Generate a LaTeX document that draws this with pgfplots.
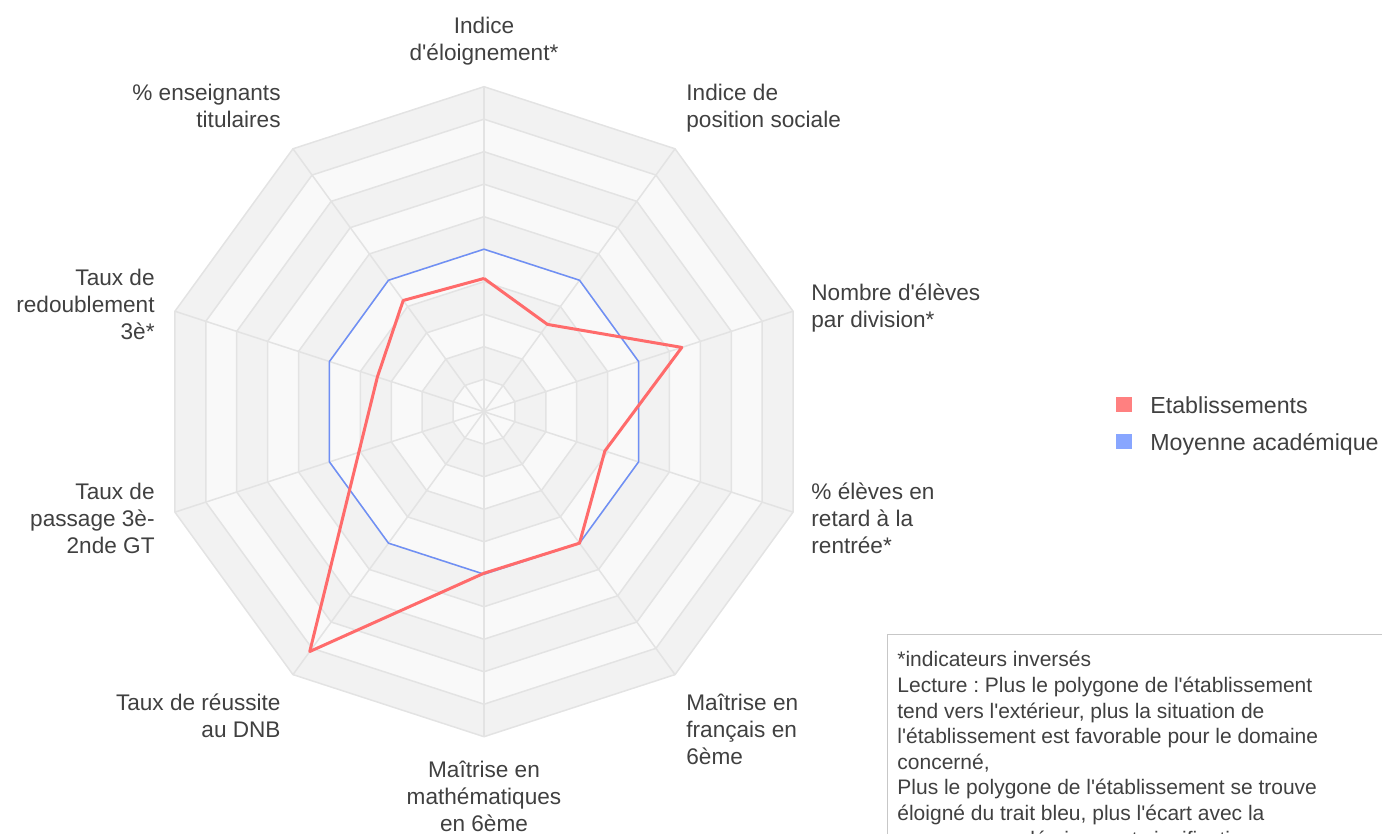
\documentclass[border=0pt]{standalone}
\usepackage{fontspec}
\setmainfont{Liberation Sans}[Ligatures=TeXOff]
\usepackage{pgfplots}
\pgfplotsset{compat=1.18}
\frenchspacing

\definecolor{txt}{HTML}{404040}
\definecolor{gridc}{HTML}{E3E3E3}
\definecolor{bandL}{HTML}{F9F9F9}
\definecolor{bandD}{HTML}{F2F2F2}
\definecolor{etab}{HTML}{FF6B6B}
\definecolor{acad}{HTML}{6F8FF5}
\definecolor{etabkey}{HTML}{FF8080}
\definecolor{acadkey}{HTML}{88A6FF}
% one fill colour per ring, alternating from the centre
\colorlet{band1}{bandL}\colorlet{band2}{bandD}\colorlet{band3}{bandL}
\colorlet{band4}{bandD}\colorlet{band5}{bandL}\colorlet{band6}{bandD}
\colorlet{band7}{bandL}\colorlet{band8}{bandD}\colorlet{band9}{bandL}
\colorlet{band10}{bandD}

\newcommand\labf{\fontsize{11.3}{13.5}\selectfont}
\newcommand\legf{\fontsize{11.6}{13.8}\selectfont}
\newcommand\boxf{\fontsize{10.5}{12.8}\selectfont}

\begin{document}
\begin{tikzpicture}
\path[use as bounding box] (0,0) rectangle (691pt,-417pt);
\clip (0,0) rectangle (691pt,-417pt);

\begin{axis}[
  at={(242pt,-205.85pt)}, anchor=origin,
  x=16.25pt, y=16.25pt,
  xmin=-10.5, xmax=10.5, ymin=-10.5, ymax=10.5,
  hide axis, clip=false,
]
% background rings, outer first
\pgfplotsinvokeforeach{10,9,8,7,6,5,4,3,2,1}{
  \addplot[data cs=polar, draw=gridc, fill=band#1, line width=0.75pt, line join=round]
    coordinates {(90,#1) (54,#1) (18,#1) (-18,#1) (-54,#1) (-90,#1) (-126,#1) (-162,#1) (162,#1) (126,#1) (90,#1)};
}
% spokes
\pgfplotsinvokeforeach{90,54,18,-18,-54,-90,-126,-162,162,126}{
  \addplot[data cs=polar, draw=gridc, line width=0.75pt] coordinates {(#1,0) (#1,10)};
}
% Moyenne academique
\addplot[data cs=polar, draw=acad, line width=0.75pt, line join=round]
  coordinates {(90,5) (54,5) (18,5) (-18,5) (-54,5) (-90,5) (-126,5) (-162,5) (162,5) (126,5) (90,5)};
% Etablissements
\addplot[data cs=polar, draw=etab, line width=1.5pt, line join=round]
  coordinates {(90,4.1) (54,3.32) (18,6.4) (-18,3.91) (-54,5.0) (-90,4.97) (-126,9.12) (-162,4.05) (162,3.45) (126,4.23) (90,4.1)};
\end{axis}

\begin{scope}[x=0.5pt, y=-0.5pt, every node/.style={inner sep=0pt, text=txt}]
% axis labels
\node[anchor=north, align=center, font=\labf] at (484,14) {\strut Indice\\d'éloignement*};
\node[anchor=north west, align=left, font=\labf] at (686,81) {\strut Indice de\\position sociale};
\node[anchor=north west, align=left, font=\labf] at (811,281) {\strut Nombre d'élèves\\par division*};
\node[anchor=north west, align=left, font=\labf] at (811,480) {\strut \% élèves en\\retard à la\\rentrée*};
\node[anchor=north west, align=left, font=\labf] at (686,691) {\strut Maîtrise en\\français en\\6ème};
\node[anchor=north, align=center, font=\labf] at (484,758) {\strut Maîtrise en\\mathématiques\\en 6ème};
\node[anchor=north east, align=right, font=\labf] at (281,691) {\strut Taux de réussite\\au DNB};
\node[anchor=north east, align=right, font=\labf] at (155,480) {\strut Taux de\\passage 3è-\\2nde GT};
\node[anchor=north east, align=right, font=\labf] at (155,266) {\strut Taux de\\redoublement\\3è*};
\node[anchor=north east, align=right, font=\labf] at (281,81) {\strut \% enseignants\\titulaires};

% legend
\fill[etabkey] (1116,397) rectangle (1132,412);
\fill[acadkey] (1116,434) rectangle (1132,449);
\node[anchor=base west, font=\legf] at (1150,413) {Etablissements};
\node[anchor=base west, font=\legf] at (1150,450) {Moyenne académique};

% note box (cut by the picture's edge, as in the original)
\draw[draw=black!22, line width=0.5pt] (887,634) rectangle (1420,900);
\node[anchor=north west, align=left, font=\boxf] at (897,648.6) {\strut*indicateurs inversés\\
Lecture : Plus le polygone de l'établissement\\
tend vers l'extérieur, plus la situation de\\
l'établissement est favorable pour le domaine\\
concerné,\\
Plus le polygone de l'établissement se trouve\\
éloigné du trait bleu, plus l'écart avec la\\
moyenne académique est significative};
\end{scope}
\end{tikzpicture}
\end{document}
